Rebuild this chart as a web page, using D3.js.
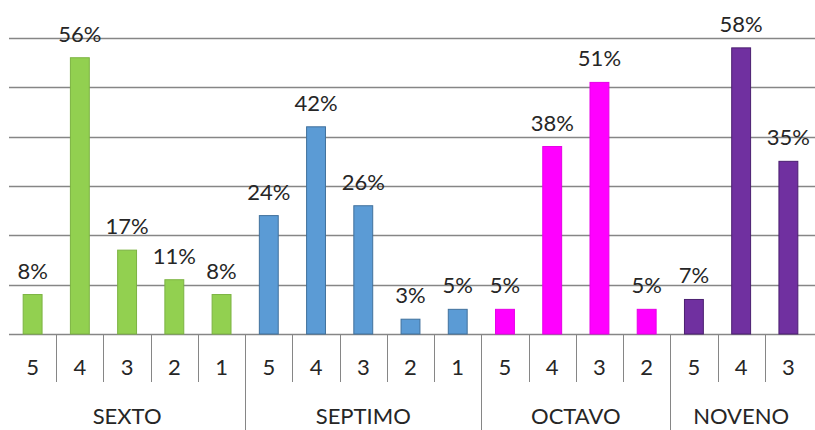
<!DOCTYPE html>
<html>
<head>
<meta charset="utf-8">
<script src="https://cdn.jsdelivr.net/npm/d3@7"></script>
<style>
  body { margin: 0; background: #fff; }
  text { font-family: Lato, "Open Sans", sans-serif; fill: #262626; }
</style>
</head>
<body>
<div id="chart"></div>
<script>
// data
var groups = ["SEXTO", "SEPTIMO", "OCTAVO", "NOVENO"];
var groupTicks = [["5", "4", "3", "2", "1"], ["5", "4", "3", "2", "1"], ["5", "4", "3", "2"], ["5", "4", "3"]];
var groupValues = [[8, 56, 17, 11, 8], [24, 42, 26, 3, 5], [5, 38, 51, 5], [7, 58, 35]];
var groupColors = ["#92d050", "#5b9bd5", "#ff00ff", "#7030a0"];
var groupStrokes = ["#7cb342", "#41719c", "#e600e6", "#4b1f70"];
var yTicks = [0, 10, 20, 30, 40, 50, 60];

var width = 815, height = 430;
var margin = { top: 38, right: 3, bottom: 96, left: 9 };

// flatten into one row per bar
var rows = [];
groups.forEach(function (g, gi) {
  groupValues[gi].forEach(function (v, i) {
    rows.push({ group: gi, tick: groupTicks[gi][i], value: v });
  });
});

var x = d3.scaleBand()
  .domain(d3.range(rows.length))
  .range([margin.left, width - margin.right])
  .padding(0);

var y = d3.scaleLinear().domain([0, 60]).range([height - margin.bottom, margin.top]);

var svg = d3.select("#chart").append("svg")
  .attr("width", width)
  .attr("height", height);

// gridlines
svg.append("g")
  .selectAll("line")
  .data(yTicks)
  .enter()
  .append("line")
  .attr("x1", margin.left)
  .attr("x2", width)
  .attr("y1", function (d) { return Math.round(y(d)) + 0.5; })
  .attr("y2", function (d) { return Math.round(y(d)) + 0.5; })
  .attr("stroke", "#868686")
  .attr("stroke-width", 1.5);

// bars
var barW = x.bandwidth() * 0.4;
svg.append("g")
  .selectAll("rect")
  .data(rows)
  .enter()
  .append("rect")
  .attr("x", function (d, i) { return x(i) + (x.bandwidth() - barW) / 2; })
  .attr("y", function (d) { return y(d.value); })
  .attr("width", barW)
  .attr("height", function (d) { return y(0) - y(d.value); })
  .attr("fill", function (d) { return groupColors[d.group]; })
  .attr("stroke", function (d) { return groupStrokes[d.group]; })
  .attr("stroke-width", 1);

// value labels
svg.append("g")
  .selectAll("text")
  .data(rows)
  .enter()
  .append("text")
  .attr("x", function (d, i) { return x(i) + x.bandwidth() / 2; })
  .attr("y", function (d) { return y(d.value) - 16; })
  .attr("text-anchor", "middle")
  .attr("font-size", 22)
  .text(function (d) { return d.value + "%"; });

// category axis
var base = y(0);
var axis = svg.append("g");
rows.forEach(function (d, i) {
  if (i > 0) {
    var first = rows[i - 1].group !== d.group;
    axis.append("line")
      .attr("x1", Math.round(x(i)) + 0.5)
      .attr("x2", Math.round(x(i)) + 0.5)
      .attr("y1", base)
      .attr("y2", first ? height : base + 48)
      .attr("stroke", "#868686")
      .attr("stroke-width", 1);
  }
  axis.append("text")
    .attr("x", x(i) + x.bandwidth() / 2)
    .attr("y", base + 41)
    .attr("text-anchor", "middle")
    .attr("font-size", 22)
    .text(d.tick);
});

// group labels
groups.forEach(function (g, gi) {
  var idx = rows.map(function (r, i) { return r.group === gi ? i : -1; }).filter(function (i) { return i >= 0; });
  var x0 = x(idx[0]), x1 = x(idx[idx.length - 1]) + x.bandwidth();
  axis.append("text")
    .attr("x", (x0 + x1) / 2)
    .attr("y", base + 90)
    .attr("text-anchor", "middle")
    .attr("font-size", 22)
    .text(g);
});
</script>
</body>
</html>
